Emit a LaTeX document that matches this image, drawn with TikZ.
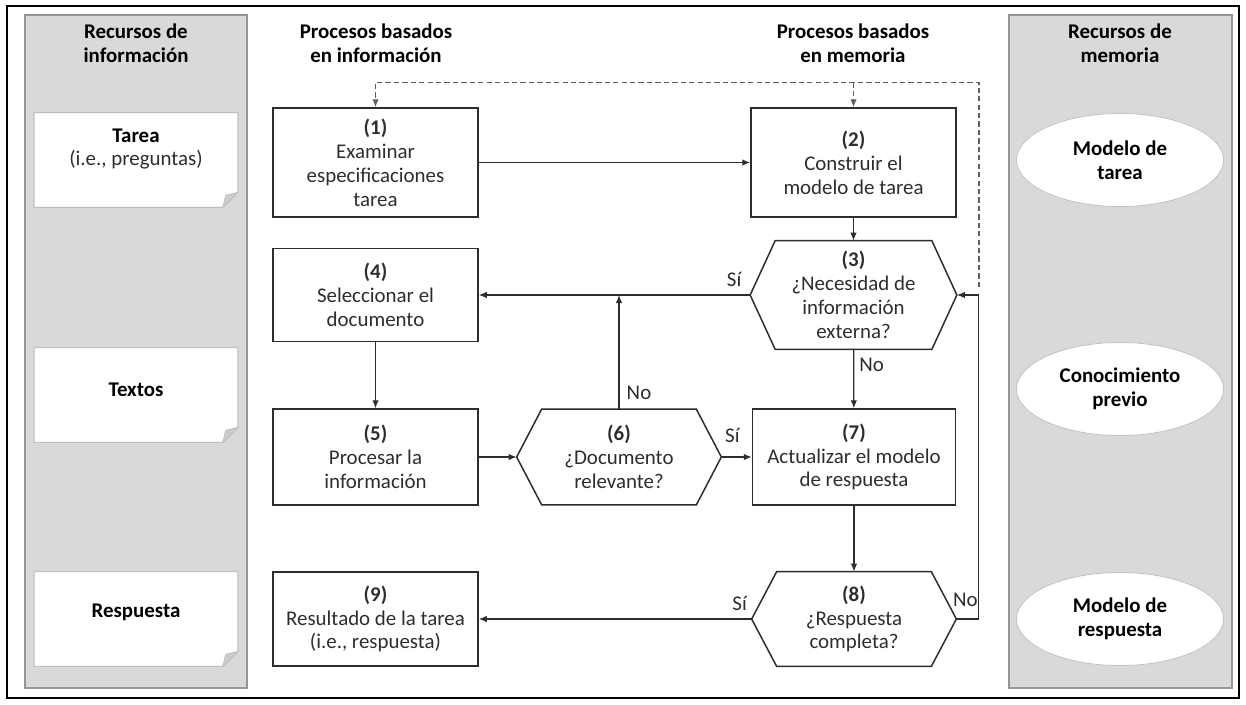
\documentclass[tikz,border=0pt]{standalone}
\usepackage{fontspec}
\setmainfont{Carlito}
\usepackage{tikz}
\usetikzlibrary{calc, arrows.meta, backgrounds, shapes, positioning}
\newcommand{\nodesize}{\fontsize{11.9}{13.6}\selectfont}
\definecolor{gra}{RGB}{217, 217, 217}
\definecolor{panelgray}{RGB}{150, 150, 150}
\definecolor{edgegray}{RGB}{191, 191, 191}
\definecolor{foldgray}{RGB}{205, 205, 205}
\definecolor{linegray}{RGB}{45, 45, 45}
\definecolor{textgray}{RGB}{45, 45, 45}
\definecolor{dashgray}{RGB}{95, 95, 95}
\tikzset{
    procnode/.style = {draw=linegray, rectangle, line width=0.85pt, minimum width=4.1cm, 
      inner sep = 0em, node distance=0em, text=textgray, font=\nodesize},
    hexnode/.style = {draw=none, rectangle, minimum width=4.1cm, inner sep = 0em, 
      node distance=0em, text=textgray, font=\nodesize},
    hexline/.style = {draw=linegray, line width=0.85pt},
    notenode/.style = {draw=none, rectangle, minimum width=4.06cm, minimum height=1.88cm, 
      inner sep = 0em, node distance=0em},
    memnode/.style = {draw=edgegray, fill=white, ellipse, minimum width=4.14cm, minimum height=1.86cm, 
      inner sep = 0em, node distance=0em, font=\nodesize\bfseries},
    textnode/.style = {draw=none, fill=none, rectangle, inner sep = 0em, node distance=0em, 
      font=\nodesize\bfseries},
    lblnode/.style = {draw=none, fill=none, inner sep = 0em, text=textgray, font=\nodesize},
    connect/.style = {draw=linegray, line width=0.7pt, -{Latex[length=1.6mm, width=1.3mm]}},
    dashconnect/.style = {draw=dashgray, line width=0.8pt, dash pattern=on 3pt off 1.8pt, 
      -{Latex[length=1.6mm, width=1.3mm]}},
    every text node part/.style={align=center}
}

\begin{document}
\begin{tikzpicture}
\useasboundingbox (0,0) rectangle (24.92,-14.08);
\draw[black, line width=0.9pt] (0.14,-0.12) rectangle (24.78,-13.96);

% column headers
\node [textnode, name=hinf] at (2.72,-0.87) {Recursos de\\información};
\node [textnode, name=hpinf] at (7.52,-0.87) {Procesos basados\\en información};
\node [textnode, name=hpmem] at (17.06,-0.87) {Procesos basados\\en memoria};
\node [textnode, name=hmem] at (22.4,-0.87) {Recursos de\\memoria};

% information resources
\node [notenode, name=n1] at (2.72,-3.2) {};
\node [notenode, name=n2, below of = n1, yshift=-4.7cm] {};
\node [notenode, name=n3, below of = n2, yshift=-4.48cm] {};
\node [textnode, name=t1, above of = n1, yshift=0.22cm] {Tarea\\{\mdseries\color{textgray}(i.e., preguntas)}};
\node [textnode, name=t2, above of = n2, yshift=0.1cm] {Textos};
\node [textnode, name=t3, above of = n3, yshift=0.14cm] {Respuesta};

% memory resources
\node [memnode, name=e1] at (22.4,-3.2) {Modelo de\\tarea};
\node [memnode, name=e2, below of = e1, yshift=-4.58cm] {Conocimiento\\previo};
\node [memnode, name=e3, below of = e2, yshift=-4.6cm] {Modelo de\\respuesta};

% processes
\node [procnode, name=p1, minimum height=2.18cm] at (7.51,-3.25) {\textbf{(1)}\\Examinar\\especificaciones\\tarea};
\node [procnode, name=p2, minimum height=2.18cm, right of = p1, xshift=9.56cm] {\textbf{(2)}\\Construir el\\modelo de tarea};
\node [hexnode, name=h3, minimum height=2.16cm, minimum width=4.12cm, below of = p2, yshift=-2.65cm] {\textbf{(3)}\\¿Necesidad de\\información\\externa?};
\node [procnode, name=p4, minimum height=1.86cm, below of = p1, yshift=-2.65cm] {\textbf{(4)}\\Seleccionar el\\documento};
\node [procnode, name=p5, minimum height=1.92cm, below of = p4, yshift=-3.24cm] {\textbf{(5)}\\Procesar la\\información};
\node [hexnode, name=h6, minimum height=1.9cm, minimum width=4.08cm, right of = p5, xshift=4.87cm] {\textbf{(6)}\\¿Documento\\relevante?};
\node [procnode, name=p7, minimum height=1.92cm, minimum width=4.06cm, right of = h6, xshift=4.7cm] {\textbf{(7)}\\Actualizar el modelo\\de respuesta};
\node [hexnode, name=h8, minimum height=1.88cm, minimum width=4.08cm, below of = p7, yshift=-3.24cm] {\textbf{(8)}\\¿Respuesta\\completa?};
\node [procnode, name=p9, minimum height=1.88cm, below of = p5, yshift=-3.24cm] {\textbf{(9)}\\Resultado de la tarea\\(i.e., respuesta)};

\foreach \h in {h3,h6,h8}
  \draw[hexline] (\h.west) -- ([xshift=0.5cm]\h.north west) -- ([xshift=-0.5cm]\h.north east) 
    -- (\h.east) -- ([xshift=-0.5cm]\h.south east) -- ([xshift=0.5cm]\h.south west) -- cycle;

% panels and notes
\begin{scope}[on background layer]
\draw[fill=gra, draw=panelgray, line width=0.6pt] (0.5,-0.3) rectangle (4.94,-13.76);
\draw[fill=gra, draw=panelgray, line width=0.6pt] (20.18,-0.3) rectangle (24.64,-13.76);
\foreach \n in {n1,n2,n3} {
  \draw[fill=white, draw=edgegray, line width=0.6pt] (\n.north west) -- (\n.north east) -- ([yshift=0.3cm]\n.south east) 
    -- ([xshift=-0.3cm]\n.south east) -- (\n.south west) -- cycle;
  \draw[fill=foldgray, draw=edgegray, line width=0.5pt] ([yshift=0.3cm]\n.south east) -- ([xshift=-0.3cm]\n.south east) 
    -- ([xshift=-0.24cm, yshift=0.24cm]\n.south east) -- cycle;
}
\end{scope}

% connectors
\draw[connect] (p1) -- (p2);
\draw[connect] (p2) -- (h3);
\draw[connect] (h3.west) -- (h3.west -| p4.east);
\draw[connect] (h3) -- (p7);
\draw[connect] (p4) -- (p5);
\draw[connect] (p5) -- (h6);
\draw[connect] (h6) -- (p7);
\draw[connect] (h6.north) -- (h6.north |- h3.west);
\draw[connect] (p7) -- (h8);
\draw[connect] (h8) -- (p9);
\coordinate (fb) at ([xshift=0.44cm]h3.east);
\draw[connect] (h8.east) -| (fb) -- (h3.east);

% dashed feedback to the task model
\coordinate (dstart) at ([yshift=0.16cm]fb);
\coordinate (dtop) at ([yshift=0.5cm]p1.north);
\draw[dashconnect] (dstart) |- (dtop) -- (p1.north);
\draw[dashconnect] (p2.north |- dtop) -- (p2.north);

% labels
\node [lblnode, name=l3s] at ([xshift=-0.32cm, yshift=0.32cm]h3.west) {Sí};
\node [lblnode, name=l3n] at ([xshift=0.36cm, yshift=-0.32cm]h3.south) {No};
\node [lblnode, name=l6n] at ([xshift=0.4cm, yshift=0.32cm]h6.north) {No};
\node [lblnode, name=l6s] at ([xshift=0.22cm, yshift=0.44cm]h6.east) {Sí};
\node [lblnode, name=l8s] at ([xshift=-0.24cm, yshift=0.32cm]h8.west) {Sí};
\node [lblnode, name=l8n] at ([xshift=0.18cm, yshift=0.38cm]h8.east) {No};
\end{tikzpicture}
\end{document}
